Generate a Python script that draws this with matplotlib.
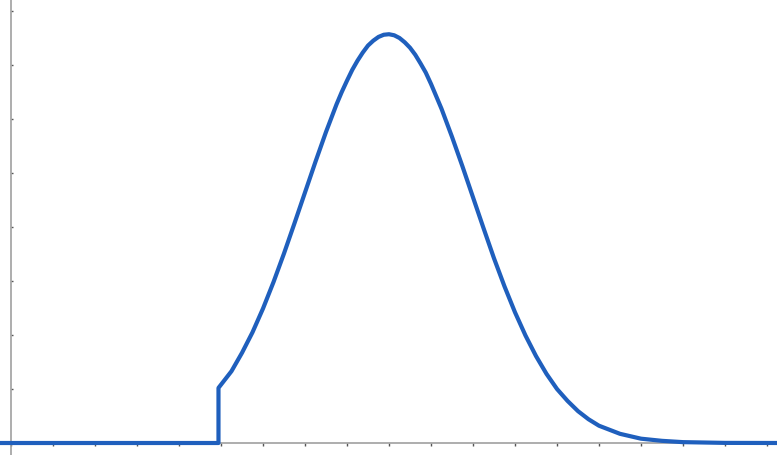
import matplotlib
matplotlib.use("Agg")
import matplotlib.pyplot as plt

# curve values (zero, step up, then the bell)
x_vals = [-0.3, 4.94, 4.94, 5.25, 5.5, 5.75, 6.0, 6.25, 6.5, 6.75, 7.0, 7.25,
          7.5, 7.75, 7.875, 8.0, 8.125, 8.25, 8.375, 8.5, 8.625, 8.75, 8.875,
          9.0, 9.125, 9.25, 9.375, 9.5, 9.625, 9.75, 9.875, 10.0, 10.125, 10.25,
          10.5, 10.75, 11.0, 11.25, 11.5, 11.75, 12.0, 12.25, 12.5, 12.75,
          13.0, 13.25, 13.5, 13.75, 14.0, 14.5, 15.0, 15.5, 16.0, 17.0, 18.5]
y_vals = [0.0, 0.0, 1.02, 1.33, 1.67, 2.05, 2.49, 2.98, 3.51, 4.07, 4.64, 5.21,
          5.76, 6.27, 6.50, 6.71, 6.91, 7.08, 7.23, 7.36, 7.45, 7.52, 7.56,
          7.57, 7.55, 7.50, 7.42, 7.32, 7.19, 7.03, 6.86, 6.65, 6.42, 6.19,
          5.67, 5.12, 4.55, 3.98, 3.42, 2.90, 2.42, 1.99, 1.61, 1.28,
          1.00, 0.78, 0.59, 0.44, 0.32, 0.17, 0.08, 0.04, 0.016, 0.002, 0.0]

x_ticks = list(range(0, 19))
y_ticks = list(range(0, 9))

fig = plt.figure(figsize=(7.77, 4.56), dpi=100)
ax = fig.add_axes([0, 0, 1, 1])

ax.plot(x_vals, y_vals, color="#1f5fbd", linewidth=3.0,
        solid_joinstyle="round", zorder=3)

ax.set_xlim(-11 / 42, 766 / 42)
ax.set_ylim(-12 / 54, 444 / 54)

# axes cross at the origin, no labels
for side in ["top", "right"]:
    ax.spines[side].set_visible(False)
ax.spines["left"].set_position(("data", 0))
ax.spines["bottom"].set_position(("data", 0))
for side in ["left", "bottom"]:
    ax.spines[side].set_color("#a0a0a0")
    ax.spines[side].set_linewidth(1.2)

ax.set_xticks(x_ticks)
ax.set_yticks(y_ticks)
ax.tick_params(axis="x", direction="out", length=2.5, width=1, color="#555555",
               labelbottom=False)
ax.tick_params(axis="y", direction="in", length=1.5, width=1, color="#555555",
               labelleft=False)

fig.savefig("out.png", dpi=100)
plt.close(fig)
